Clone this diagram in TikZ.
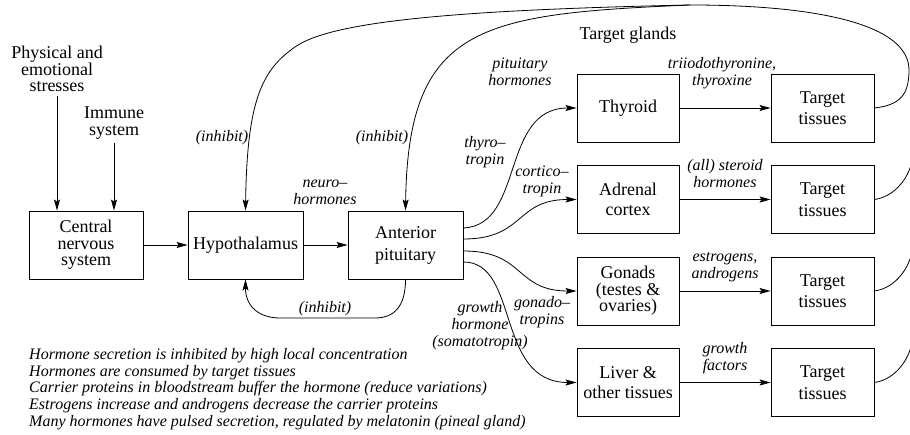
\documentclass[tikz,border=0pt]{standalone}
\usepackage{fontspec}
\setmainfont{Liberation Serif}
\usetikzlibrary{arrows.meta,calc}
\begin{document}
\begin{tikzpicture}[x=1pt,y=-1pt,
  box/.style={draw, line width=0.9pt, inner sep=0pt, align=center, font=\fontsize{18}{16.5}\selectfont},
  gland/.style={box, minimum width=102pt, minimum height=68pt},
  tgt/.style={box, minimum width=103pt, minimum height=68pt},
  mid/.style={box, minimum width=115pt, minimum height=68pt},
  lab/.style={inner sep=0pt, align=center, font=\fontsize{16}{17}\selectfont\itshape},
  txt/.style={inner sep=0pt, outer sep=4pt, align=center, font=\fontsize{18}{16.7}\selectfont},
  arr/.style={-{Stealth[length=11pt,width=6pt,inset=2pt]}, line width=0.8pt},
  ln/.style={line width=0.8pt}]
\clip (0,0) rectangle (910,435);

% boxes
\node[mid, minimum width=114pt] (cns) at (86,245) {Central\\nervous\\system};
\node[mid] (hyp) at (245.5,245) {Hypothalamus};
\node[mid] (pit) at (405.5,245) {Anterior\\[5.5pt]pituitary};
\node[gland] (thy) at (628,108) {Thyroid};
\node[gland] (adr) at (628,199.5) {Adrenal\\[4pt]cortex};
\node[gland] (gon) at (628,291) {Gonads\\(testes \&\\ovaries)};
\node[gland] (liv) at (628,382.5) {Liver \&\\[4pt]other tissues};
\node[tgt] (t1) at (822.5,108) {Target\\[5pt]tissues};
\node[tgt] (t2) at (822.5,199.5) {Target\\[5pt]tissues};
\node[tgt] (t3) at (822.5,291) {Target\\[5pt]tissues};
\node[tgt] (t4) at (822.5,382.5) {Target\\[5pt]tissues};

% plain texts
\node[txt] (phys) at (57,69) {Physical and\\emotional\\stresses};
\node[txt] (imm) at (114,123) {Immune\\system};
\node[txt, outer sep=0pt] (tg) at (628,35) {Target glands};

% labels
\node[lab] (lneuro) at (325,192) {neuro--\\hormones};
\node[lab] (linh1) at (222,138) {(inhibit)};
\node[lab] (linh2) at (382,138) {(inhibit)};
\node[lab] (linh3) at (325,309) {(inhibit)};
\node[lab] (lpit) at (520,72) {pituitary\\hormones};
\node[lab] (lthy) at (485,152) {thyro--\\tropin};
\node[lab] (lcor) at (542,181) {cortico--\\tropin};
\node[lab] (lgon) at (542,312) {gonado--\\tropins};
\node[lab] (lgro) at (480,326) {growth\\hormone\\(somatotropin)};
\node[lab] (ltri) at (722,73) {triiodothyronine,\\thyroxine};
\node[lab] (lste) at (725,174) {(all) steroid\\hormones};
\node[lab] (lest) at (725,267) {estrogens,\\androgens};
\node[lab] (lgf) at (725,358) {growth\\factors};
\node[lab, align=left, anchor=west, font=\fontsize{16}{16.6}\selectfont\itshape] (notes) at (29,389)
 {Hormone secretion is inhibited by high local concentration\\
  Hormones are consumed by target tissues\\
  Carrier proteins in bloodstream buffer the hormone (reduce variations)\\
  Estrogens increase and androgens decrease the carrier proteins\\
  Many hormones have pulsed secretion, regulated by melatonin (pineal gland)};

% main chain
\draw[arr] (phys) -- (phys |- cns.north);
\draw[arr] (imm) -- (imm |- cns.north);
\draw[arr] (cns) -- (hyp);
\draw[arr] (hyp) -- (pit);

% pituitary to glands
\draw[arr] ($(pit.east)+(0,-17)$) .. controls (525,225) and (500,108) .. (thy.west);
\draw[arr] ($(pit.east)+(0,-6)$) .. controls (525,239) and (515,199.5) .. (adr.west);
\draw[arr] ($(pit.east)+(0,6)$) .. controls (525,251) and (515,291) .. (gon.west);
\draw[arr] ($(pit.east)+(0,17)$) .. controls (520,262) and (495,382.5) .. (liv.west);

% glands to targets
\draw[arr] (thy) -- (t1);
\draw[arr] (adr) -- (t2);
\draw[arr] (gon) -- (t3);
\draw[arr] (liv) -- (t4);

% feedback
\coordinate (m) at (690,5);
\draw[ln] (t1.east) .. controls (900,105) and (909,95) .. (909,70)
   .. controls (909,25) and (820,5) .. (m);
\draw[arr] (m) .. controls (450,10) and (330,22) .. (295,47)
   .. controls (262,70) and (247,100) .. (hyp.north);
\draw[arr] (m) .. controls (480,14) and (408,25) .. (pit.north);

\coordinate (e2) at (912,160);
\coordinate (e3) at (912,251);
\coordinate (e4) at (912,342);
\draw[ln] (t2.east) .. controls +(22,-3) and +(-2,15) .. (e2);
\draw[ln] (t3.east) .. controls +(22,-3) and +(-2,15) .. (e3);
\draw[ln] (t4.east) .. controls +(22,-3) and +(-2,15) .. (e4);

% bottom inhibit
\coordinate (b1) at (375,318);
\coordinate (b2) at (280,318);
\draw[arr] (pit.south) .. controls +(0,26) and +(20,0) .. (b1) -- (b2)
   .. controls +(-22,0) and +(0,26) .. (hyp.south);
\end{tikzpicture}
\end{document}
